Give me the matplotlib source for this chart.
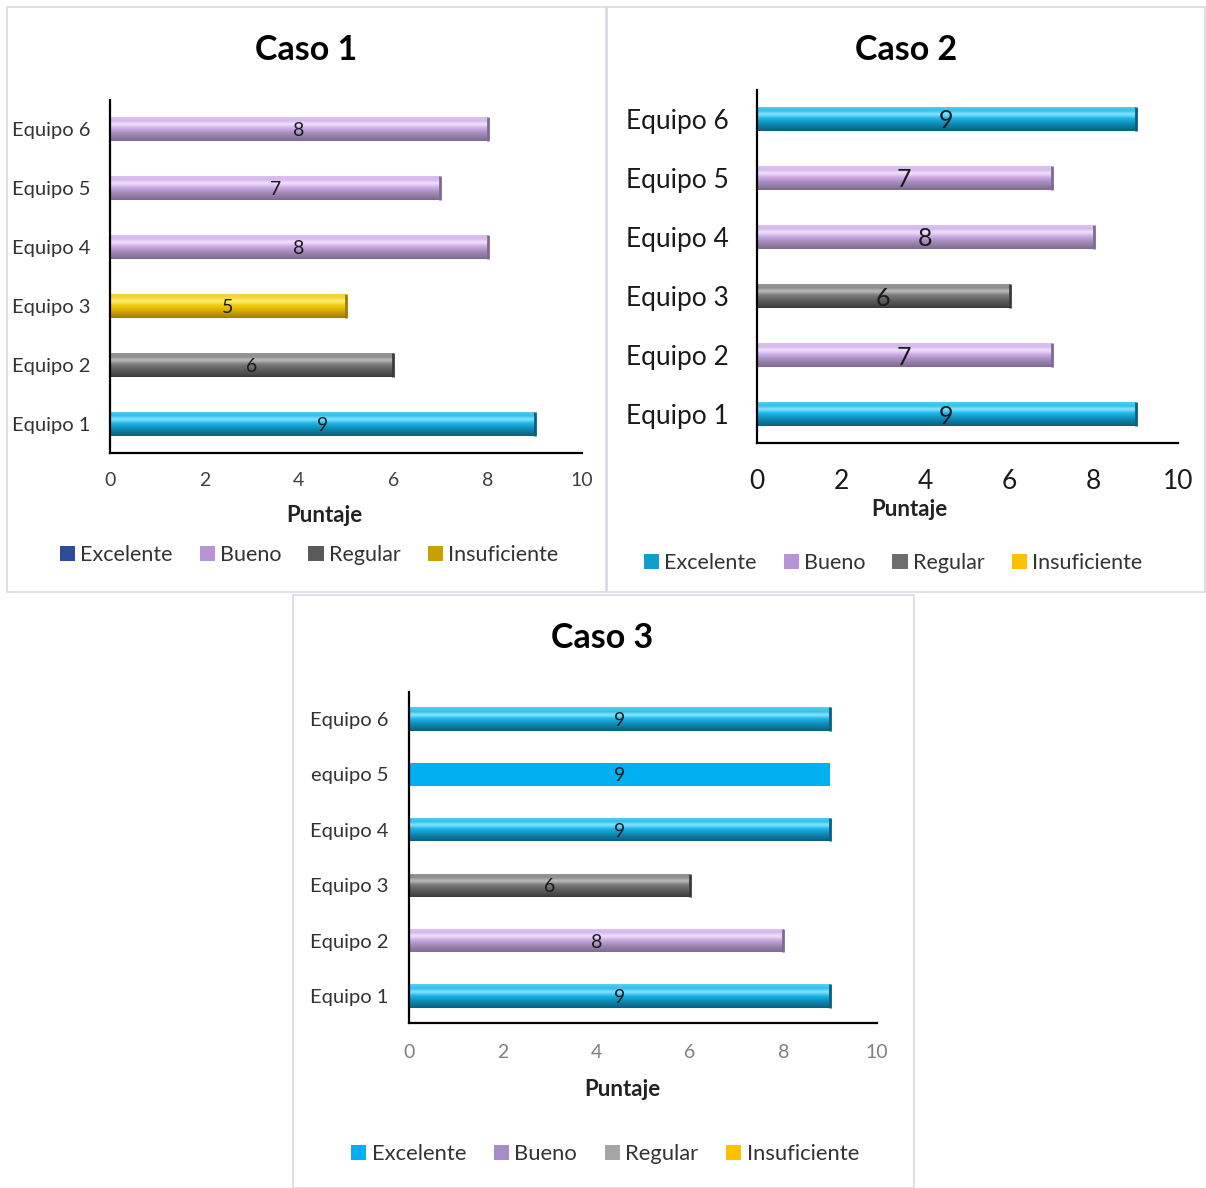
import numpy as np
import matplotlib
matplotlib.use("Agg")
import matplotlib.pyplot as plt
from matplotlib.patches import Patch, Rectangle
from matplotlib.colors import LinearSegmentedColormap

plt.rcParams['font.family'] = ['Lato', 'DejaVu Sans']

# ---------------- data ----------------
teams_c1 = ["Equipo 1", "Equipo 2", "Equipo 3", "Equipo 4", "Equipo 5", "Equipo 6"]
teams_c2 = ["Equipo 1", "Equipo 2", "Equipo 3", "Equipo 4", "Equipo 5", "Equipo 6"]
teams_c3 = ["Equipo 1", "Equipo 2", "Equipo 3", "Equipo 4", "equipo 5", "Equipo 6"]

scores_c1 = [9, 6, 5, 8, 7, 8]
scores_c2 = [9, 7, 6, 8, 7, 9]
scores_c3 = [9, 8, 6, 9, 9, 9]

rating_c1 = ["Excelente", "Regular", "Insuficiente", "Bueno", "Bueno", "Bueno"]
rating_c2 = ["Excelente", "Bueno", "Regular", "Bueno", "Bueno", "Excelente"]
rating_c3 = ["Excelente", "Bueno", "Regular", "Excelente", "Excelente", "Excelente"]

legend_labels = ["Excelente", "Bueno", "Regular", "Insuficiente"]
x_ticks = [0, 2, 4, 6, 8, 10]

# ---------------- styles ----------------
grad = {
    "Excelente":    ["#0B5F7E", "#0E8DB8", "#1DB8EA", "#8BE4FF", "#2FC0EE", "#58CFF2"],
    "Bueno":        ["#7E6A92", "#A58BBB", "#CFAEE6", "#F3E2FF", "#D5B8EC", "#DCC4F0"],
    "Regular":      ["#3C3C3C", "#5E5E5E", "#7C7C7C", "#BDBDBD", "#8C8C8C", "#9A9A9A"],
    "Insuficiente": ["#9E7C00", "#D9AE00", "#F5CC10", "#FFF27A", "#F7D733", "#F0D040"],
}
flat = {"Excelente": "#00B0F0", "Bueno": "#CCA6E8", "Regular": "#808080", "Insuficiente": "#FFC000"}
stops = [0.0, 0.3, 0.52, 0.68, 0.82, 1.0]

W, H = 1206, 1188
fig = plt.figure(figsize=(W / 100, H / 100), dpi=100)
fig.patch.set_facecolor("white")


def fx(px):
    return px / W


def fy(py):
    return 1 - py / H


# panel borders
for (x0, y0, x1, y1) in [(7, 7, 606, 592), (607, 7, 1205, 592), (293, 595, 914, 1188)]:
    fig.add_artist(Rectangle((fx(x0), fy(y1)), fx(x1 - x0), (y1 - y0) / H,
                             transform=fig.transFigure, fill=False,
                             edgecolor="#D9D9E3", linewidth=1.2))


def draw_panel(rect_px, teams, scores, ratings, title, title_xy, xlabel_xy,
               legend_xy, leg_colors, ysize, xsize, xtick_color, ytick_color,
               ypad, xpad, valsize, flat_idx=()):
    x0, ytop, x1, ybot = rect_px
    ax = fig.add_axes([fx(x0), fy(ybot), fx(x1 - x0), (ybot - ytop) / H])
    ypos = np.arange(len(teams))
    bars = ax.barh(ypos, scores, height=0.42, color="none", edgecolor="none")
    for i, (b, r, v) in enumerate(zip(bars, ratings, scores)):
        bx, by = b.get_x(), b.get_y()
        bw, bh = b.get_width(), b.get_height()
        if i in flat_idx:
            b.set_facecolor(flat[r])
        else:
            cmap = LinearSegmentedColormap.from_list("g", list(zip(stops, grad[r])))
            g = np.linspace(0, 1, 64).reshape(-1, 1)
            im = ax.imshow(g, cmap=cmap, aspect="auto", origin="lower",
                           extent=(bx, bx + bw, by, by + bh), zorder=2,
                           interpolation="bicubic")
            im.set_clip_path(b)
            ax.plot([bx + bw, bx + bw], [by, by + bh], color=grad[r][0],
                    lw=2.0, zorder=3, solid_capstyle="butt")
        ax.text(v / 2, b.get_y() + bh / 2, str(v), ha="center", va="center_baseline",
                fontsize=valsize, color="#1a1a1a", zorder=4)
    ax.set_xlim(0, 10)
    ax.set_ylim(-0.49, 5.49)
    ax.set_xticks(x_ticks)
    ax.set_xticklabels([str(t) for t in x_ticks])
    ax.set_yticks(ypos)
    ax.set_yticklabels(teams)
    ax.tick_params(axis="both", length=0)
    ax.tick_params(axis="x", labelsize=xsize, colors=xtick_color, pad=xpad)
    ax.tick_params(axis="y", labelsize=ysize, colors=ytick_color, pad=ypad)
    for s in ["top", "right"]:
        ax.spines[s].set_visible(False)
    for s in ["left", "bottom"]:
        ax.spines[s].set_linewidth(1.6)
        ax.spines[s].set_color("black")
    ax.set_facecolor("none")
    fig.text(fx(title_xy[0]), fy(title_xy[1]), title, ha="center", va="center",
             fontsize=24.5, fontweight="bold", color="black")
    fig.text(fx(xlabel_xy[0]), fy(xlabel_xy[1]), "Puntaje", ha="center", va="center",
             fontsize=16, fontweight="bold", color="#222222")
    handles = [Patch(facecolor=c, edgecolor="none") for c in leg_colors]
    fig.legend(handles, legend_labels, loc="center", ncol=4, frameon=False,
               bbox_to_anchor=(fx(legend_xy[0]), fy(legend_xy[1])),
               fontsize=legend_xy[2], handlelength=0.7, handleheight=0.7,
               handletextpad=0.25, columnspacing=1.25,
               labelcolor="#333333")
    return ax


draw_panel((110, 100, 582, 453), teams_c1, scores_c1, rating_c1, "Caso 1",
           (306, 50), (324, 515), (309, 555, 15.5),
           ["#2E4C9C", "#B894D6", "#5A5A5A", "#C8A000"],
           ysize=14.5, xsize=14, xtick_color="#404040", ytick_color="#333333",
           ypad=14, xpad=14, valsize=14)

draw_panel((757, 90, 1178, 443), teams_c2, scores_c2, rating_c2, "Caso 2",
           (906, 50), (909, 510), (893, 563, 15.5),
           ["#0E9FD0", "#B894D6", "#6E6E6E", "#FFC000"],
           ysize=19, xsize=19, xtick_color="#1a1a1a", ytick_color="#1a1a1a",
           ypad=20, xpad=19, valsize=18)

draw_panel((409, 692, 877, 1023), teams_c3, scores_c3, rating_c3, "Caso 3",
           (602, 638), (622, 1090), (605, 1154, 15.8),
           ["#00B0F0", "#A98BC8", "#A5A5A5", "#FFC000"],
           ysize=14.5, xsize=14, xtick_color="#808080", ytick_color="#333333",
           ypad=15, xpad=15, valsize=14, flat_idx=(4,))

fig.savefig("out.png", dpi=100, facecolor="white")
